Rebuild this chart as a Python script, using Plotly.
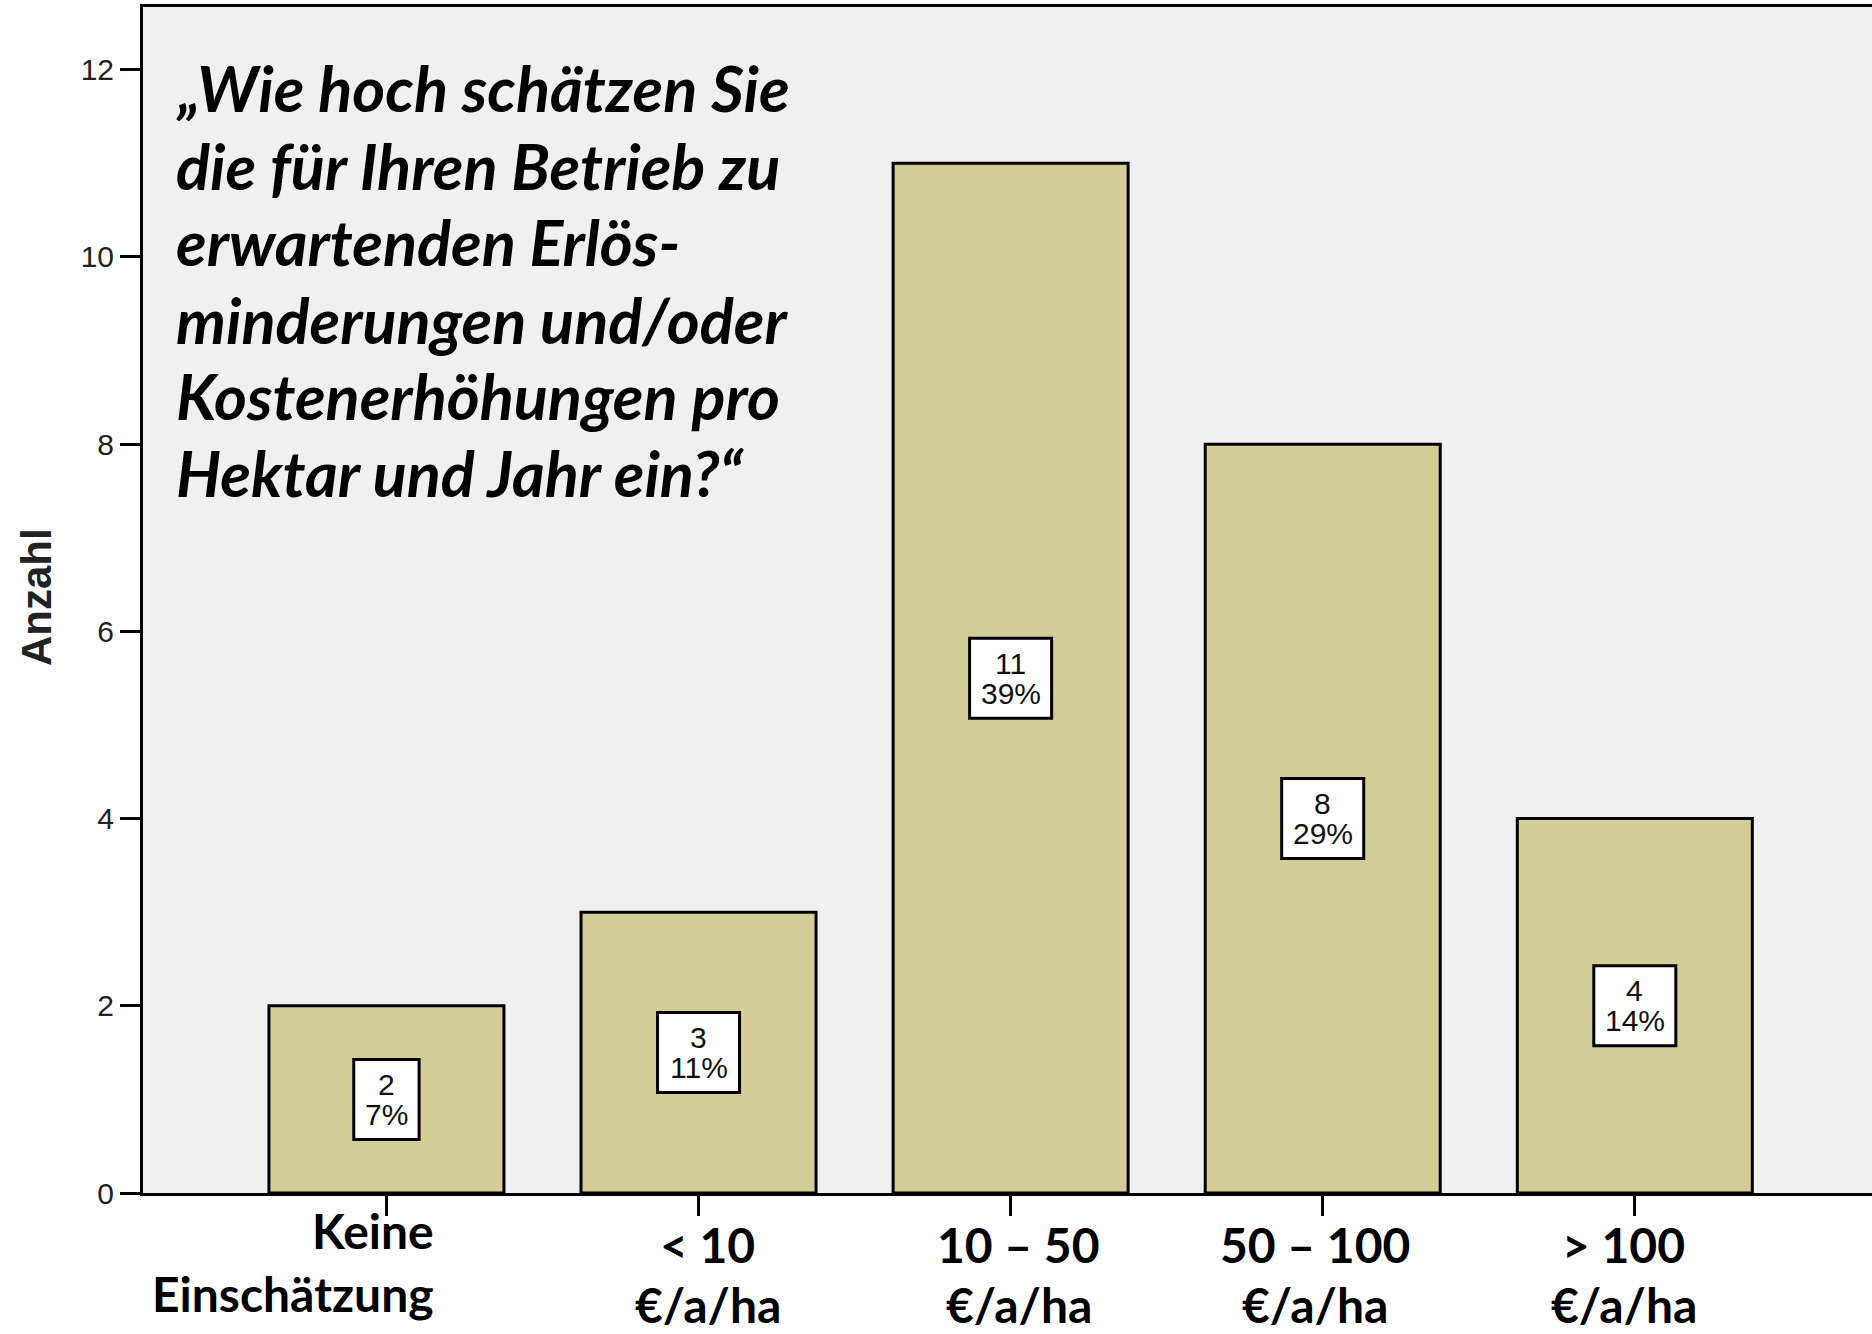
import plotly.graph_objects as go

categories = ["Keine Einschätzung", "< 10 €/a/ha", "10 – 50 €/a/ha", "50 – 100 €/a/ha", "> 100 €/a/ha"]
label_line1 = ["Keine", "< 10", "10 – 50", "50 – 100", "> 100"]
label_line2 = ["Einschätzung", "€/a/ha", "€/a/ha", "€/a/ha", "€/a/ha"]
counts = [2, 3, 11, 8, 4]
y_ticks = [0, 2, 4, 6, 8, 10, 12]
question_lines = [
    "„Wie hoch schätzen Sie",
    "die für Ihren Betrieb zu",
    "erwartenden Erlös-",
    "minderungen und/oder",
    "Kostenerhöhungen pro",
    "Hektar und Jahr ein?“",
]

W, H = 1872, 1334
L, R, T, B = 143, 0, 7, 141
PW, PH = W - L - R, H - T - B

def px_x(px):
    return (px - L) / PW

def px_y(py):
    return (H - B - py) / PH

total = sum(counts)
pcts = [round(100 * c / total) for c in counts]

fig = go.Figure()
fig.add_trace(go.Bar(
    x=list(range(len(categories))), y=counts, width=0.753,
    marker=dict(color="#D3CE98", line=dict(color="black", width=3)),
    hoverinfo="skip", showlegend=False,
))

VFONT = 30
shapes = []
ann = []
for i, (c, p) in enumerate(zip(counts, pcts)):
    ptxt = f"{p}%"
    tw = max(0.556 * VFONT * len(str(c)), 0.556 * VFONT * (len(ptxt) - 1) + 0.889 * VFONT)
    bw = tw + 22
    shapes.append(dict(
        type="rect", xref="x", yref="y", xsizemode="pixel", ysizemode="pixel",
        xanchor=i, yanchor=c / 2, x0=-bw / 2, x1=bw / 2, y0=-40, y1=40,
        fillcolor="white", line=dict(color="black", width=3), layer="above",
    ))
    for txt, ys in ((str(c), 15), (ptxt, -15)):
        ann.append(dict(
            x=i, y=c / 2, xref="x", yref="y", text=txt, showarrow=False, yshift=ys,
            xanchor="center", yanchor="middle",
            font=dict(family="Liberation Sans, Arial", size=VFONT, color="#111"),
        ))

# category labels
line1_y = [1230, 1245, 1245, 1245, 1245]
line2_y = [1293, 1305, 1305, 1305, 1305]
CFONT = dict(family="Lato", size=48, color="black", weight="bold")
for i in range(len(categories)):
    if i == 0:
        for txt, yy in ((label_line1[i], line1_y[i]), (label_line2[i], line2_y[i])):
            ann.append(dict(x=px_x(436), y=px_y(yy), xref="paper", yref="paper",
                            text=txt, showarrow=False, xanchor="right", yanchor="middle",
                            font=CFONT))
    else:
        offs = [0, 9, 8, -8, -11][i]
        for txt, yy in ((label_line1[i], line1_y[i]), (label_line2[i], line2_y[i])):
            ann.append(dict(x=i + offs / 312, y=px_y(yy), xref="x", yref="paper",
                            text=txt, showarrow=False, xanchor="center", yanchor="middle",
                            font=CFONT))

# question text
q_y = [87, 165, 242, 319, 395, 472]
for txt, yy in zip(question_lines, q_y):
    ann.append(dict(x=px_x(174), y=px_y(yy), xref="paper", yref="paper",
                    text=txt, showarrow=False, xanchor="left", yanchor="middle",
                    font=dict(family="Lato", size=63, color="black", weight="bold", style="italic")))

# y-axis title
ann.append(dict(x=px_x(36), y=px_y(597), xref="paper", yref="paper", text="Anzahl",
                showarrow=False, textangle=-90, xanchor="center", yanchor="middle",
                font=dict(family="Liberation Sans, Arial", size=42, color="#222", weight="bold")))

fig.update_layout(
    width=W, height=H,
    margin=dict(l=L, r=R, t=T, b=B, pad=0),
    paper_bgcolor="white", plot_bgcolor="#F0F0F0",
    annotations=ann, shapes=shapes,
    xaxis=dict(range=[-0.78, 4.76], tickvals=list(range(len(categories))), ticktext=[""] * len(categories),
               showgrid=False, zeroline=False, showline=True, linecolor="black", linewidth=3,
               mirror=True, ticks="outside", ticklen=20, tickwidth=3, tickcolor="black"),
    yaxis=dict(range=[0, 12.67], tickvals=y_ticks, showgrid=False, zeroline=False,
               showline=True, linecolor="black", linewidth=3,
               ticks="outside", ticklen=20, tickwidth=3, tickcolor="black",
               tickfont=dict(family="Liberation Sans, Arial", size=30, color="#222")),
)

fig.write_html("out.html", config={"displayModeBar": False},
               post_script="document.body.style.margin='0';document.body.style.overflow='hidden';")
